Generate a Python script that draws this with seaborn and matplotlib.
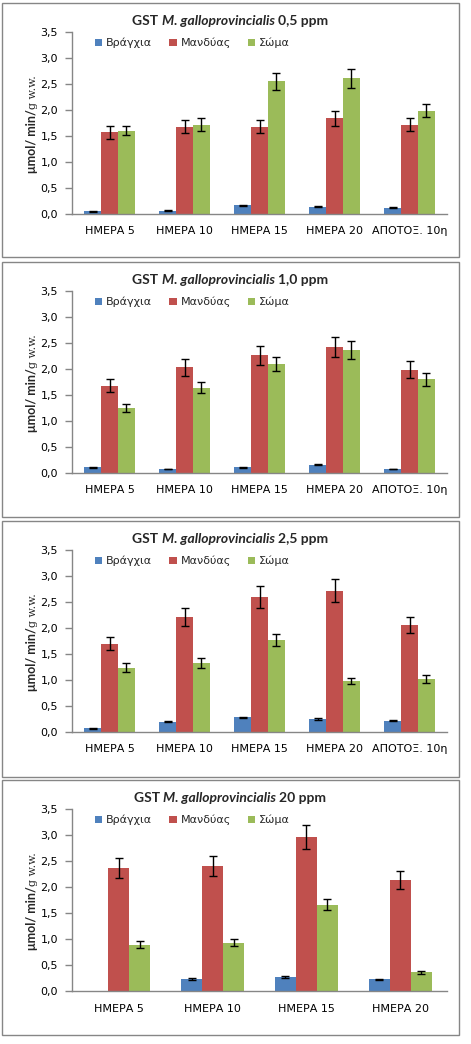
"""GST activity in M. galloprovincialis tissues, four exposure levels."""

import numpy as np
import pandas as pd
import seaborn as sns
import matplotlib.pyplot as plt
from matplotlib.patches import Rectangle
from matplotlib.container import BarContainer
from matplotlib.ticker import FixedLocator, FuncFormatter

sns.set_theme(style="white")
plt.rcParams['font.family'] = ['DejaVu Sans']

tissues = ["Βράγχια", "Μανδύας", "Σώμα"]
colors = ["#4F81BD", "#C0504D", "#9BBB59"]
days5 = ["ΗΜΕΡΑ 5", "ΗΜΕΡΑ 10", "ΗΜΕΡΑ 15", "ΗΜΕΡΑ 20", "ΑΠΟΤΟΞ. 10η"]
days4 = ["ΗΜΕΡΑ 5", "ΗΜΕΡΑ 10", "ΗΜΕΡΑ 15", "ΗΜΕΡΑ 20"]
doses = ["0,5", "1,0", "2,5", "20"]

# 0,5 ppm
gill_05 = [0.05, 0.06, 0.17, 0.14, 0.12]
gill_05_err = [0.005, 0.01, 0.01, 0.01, 0.01]
mantle_05 = [1.57, 1.68, 1.68, 1.84, 1.72]
mantle_05_err = [0.13, 0.13, 0.13, 0.15, 0.13]
body_05 = [1.60, 1.72, 2.55, 2.61, 1.99]
body_05_err = [0.09, 0.13, 0.17, 0.18, 0.13]

# 1,0 ppm
gill_10 = [0.11, 0.08, 0.11, 0.16, 0.08]
gill_10_err = [0.01, 0.005, 0.01, 0.01, 0.005]
mantle_10 = [1.68, 2.03, 2.26, 2.43, 1.99]
mantle_10_err = [0.13, 0.17, 0.18, 0.19, 0.17]
body_10 = [1.25, 1.64, 2.10, 2.36, 1.80]
body_10_err = [0.08, 0.11, 0.14, 0.17, 0.13]

# 2,5 ppm
gill_25 = [0.07, 0.20, 0.28, 0.25, 0.22]
gill_25_err = [0.005, 0.01, 0.01, 0.01, 0.01]
mantle_25 = [1.70, 2.21, 2.59, 2.72, 2.06]
mantle_25_err = [0.13, 0.17, 0.21, 0.22, 0.15]
body_25 = [1.24, 1.33, 1.77, 0.98, 1.02]
body_25_err = [0.09, 0.09, 0.12, 0.06, 0.07]

# 20 ppm (no gill value on day 5)
gill_20 = [np.nan, 0.23, 0.27, 0.23]
gill_20_err = [np.nan, 0.02, 0.02, 0.01]
mantle_20 = [2.37, 2.41, 2.97, 2.14]
mantle_20_err = [0.19, 0.19, 0.23, 0.17]
body_20 = [0.89, 0.93, 1.66, 0.36]
body_20_err = [0.07, 0.07, 0.11, 0.03]

panels = [
    (days5, [gill_05, mantle_05, body_05], [gill_05_err, mantle_05_err, body_05_err]),
    (days5, [gill_10, mantle_10, body_10], [gill_10_err, mantle_10_err, body_10_err]),
    (days5, [gill_25, mantle_25, body_25], [gill_25_err, mantle_25_err, body_25_err]),
    (days4, [gill_20, mantle_20, body_20], [gill_20_err, mantle_20_err, body_20_err]),
]

W, H = 471, 1044
tops = [3, 262, 521, 780]
bottoms = [257, 517, 777, 1035]
axis_gray = "#868686"

fig = plt.figure(figsize=(W / 100, H / 100), dpi=100)


def fy(px):
    return 1 - px / H


titles = []
ylabels = []
for k, (days, vals, errs) in enumerate(panels):
    T = tops[k]
    fig.patches.append(Rectangle((2 / W, fy(bottoms[k])), 457 / W, (bottoms[k] - T) / H,
                                 transform=fig.transFigure, fill=False,
                                 edgecolor=axis_gray, linewidth=1))
    ax = fig.add_axes([72 / W, fy(T + 211), 375 / W, 182 / H])

    df = pd.DataFrame({
        "day": np.repeat(days, 3),
        "tissue": tissues * len(days),
        "value": np.array(vals).T.ravel(),
    }).dropna()
    sns.barplot(data=df, x="day", y="value", hue="tissue", order=days,
                hue_order=tissues, palette=colors, width=0.67, saturation=1,
                errorbar=None, linewidth=0, ax=ax)

    bar_groups = [c for c in ax.containers if isinstance(c, BarContainer)]
    for i, cont in enumerate(bar_groups):
        for bar in cont:
            xc = bar.get_x() + bar.get_width() / 2
            h = bar.get_height()
            j = int(round(xc))
            e = errs[i][j]
            if np.isnan(h) or np.isnan(e):
                continue
            ax.errorbar(xc, h, yerr=e, color="black", elinewidth=1,
                        capsize=3, capthick=1)

    n = len(days)
    ax.set_xlim(-0.5, n - 0.5)
    ax.set_ylim(0, 3.5)
    ax.yaxis.set_major_locator(FixedLocator(np.arange(0, 3.51, 0.5)))
    ax.yaxis.set_major_formatter(FuncFormatter(lambda v, p: f"{v:.1f}".replace(".", ",")))
    ax.xaxis.set_minor_locator(FixedLocator(np.arange(-0.5, n, 1.0)))
    ax.tick_params(axis="x", which="major", length=0, pad=9, labelsize=8, colors="black")
    ax.tick_params(axis="x", which="minor", length=5, width=1, color=axis_gray, direction="out")
    ax.tick_params(axis="y", length=5, width=1, color=axis_gray, direction="out",
                   pad=5, labelsize=8, labelcolor="black", left=True)
    for s in ["top", "right"]:
        ax.spines[s].set_visible(False)
    for s in ["left", "bottom"]:
        ax.spines[s].set_color(axis_gray)
        ax.spines[s].set_linewidth(1)
    ax.set_xlabel("")
    ax.set_ylabel("")

    handles, labels = ax.get_legend_handles_labels()
    ax.legend(handles, labels, ncol=3, loc="center left",
              bbox_to_anchor=(95 / W, fy(T + 40)), bbox_transform=fig.transFigure,
              frameon=False, fontsize=8, handlelength=0.65, handleheight=0.65,
              handletextpad=0.35, columnspacing=1.55, borderpad=0, borderaxespad=0)

    # y label: bold part plus a smaller serif "g w.w."
    y1 = fig.text(38 / W, fy(T + 170), "μmol/ min/", rotation=90, ha="right",
                  va="bottom", fontsize=9, fontweight="bold",
                  family=["Lato", "DejaVu Sans"])
    y2 = ax.annotate("g w.w.", xy=(1, 1), xycoords=y1, rotation=90, ha="right",
                     va="bottom", fontsize=8, family="DejaVu Serif",
                     annotation_clip=False)
    ylabels.append((y1, y2, T))

    t1 = fig.text(0.3, fy(T + 18), "GST ", fontsize=10, fontweight="bold",
                  family=["Lato", "DejaVu Sans"], va="center", ha="left")
    t2 = ax.annotate("M. galloprovincialis ", xy=(1, 0), xycoords=t1, va="bottom",
                     ha="left", fontsize=10, fontweight="bold", style="italic",
                     family=["Lato", "DejaVu Sans"], annotation_clip=False)
    t3 = ax.annotate(f"{doses[k]} ppm", xy=(1, 0), xycoords=t2, va="bottom",
                     ha="left", fontsize=10, fontweight="bold",
                     family=["Lato", "DejaVu Sans"], annotation_clip=False)
    titles.append((t1, t3, T))

# centre the multi-part titles and y labels
fig.canvas.draw()
r = fig.canvas.get_renderer()
for t1, t3, T in titles:
    x0 = t1.get_window_extent(r).x0
    x1 = t3.get_window_extent(r).x1
    shift = 230 - (x0 + x1) / 2
    t1.set_x(t1.get_position()[0] + shift / W)
for y1, y2, T in ylabels:
    b0 = y1.get_window_extent(r).y0
    b1 = y2.get_window_extent(r).y1
    target = H - (T + 121)
    shift = target - (b0 + b1) / 2
    y1.set_y(y1.get_position()[1] + shift / H)

fig.savefig("out.png", dpi=100, facecolor="white")
